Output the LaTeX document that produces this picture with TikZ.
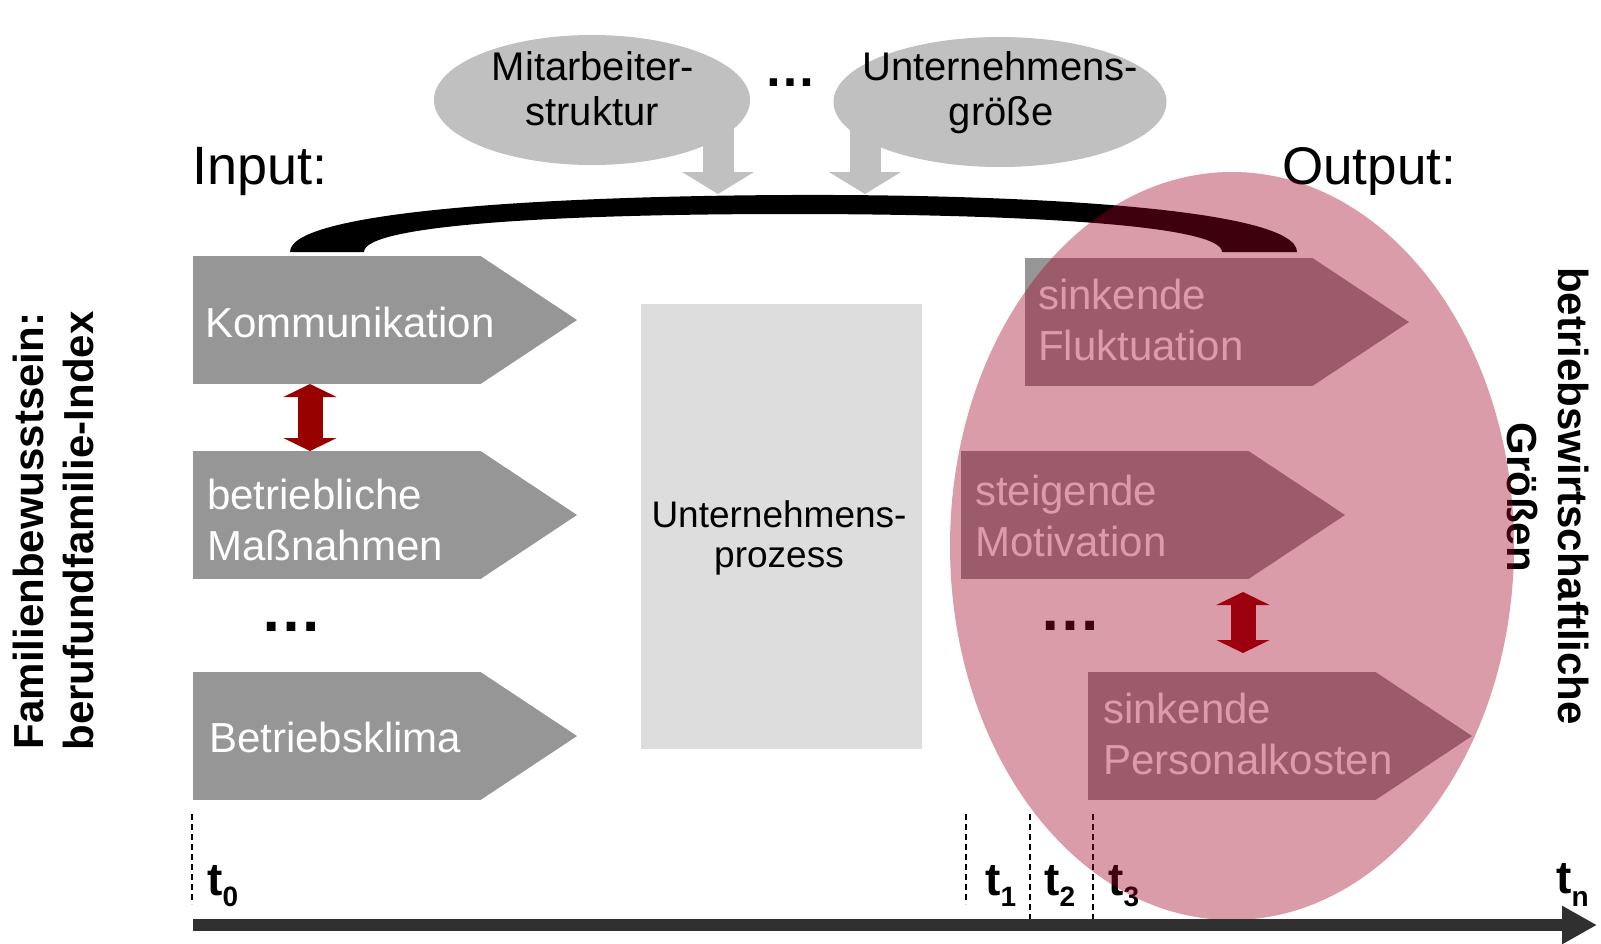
\documentclass[tikz,border=0pt]{standalone}
\usepackage{fontspec}
\setmainfont{Liberation Sans}
\usetikzlibrary{arrows.meta,calc,shapes.geometric}
\definecolor{boxgray}{HTML}{969696}
\definecolor{procgray}{HTML}{DDDDDD}
\definecolor{ellgray}{HTML}{C0C0C0}
\definecolor{arrred}{HTML}{990000}
\definecolor{pinkred}{RGB}{164,0,38}
\definecolor{axisgray}{HTML}{303030}
\newcommand{\fsz}[1]{\fontsize{#1}{#1}\selectfont}
\newcommand{\chevtip}[1]{\fill[boxgray] ($(#1.north east)+(-0.5,0)$) -- ($(#1.east)+(96,0)$) -- ($(#1.south east)+(-0.5,0)$) -- cycle;}
\begin{document}
\begin{tikzpicture}[x=1pt,y=-1pt,
 chev/.style={rectangle, fill=boxgray, minimum width=288pt, minimum height=128pt, inner sep=0pt, outer sep=0pt, anchor=north west},
 boxtxt/.style={anchor=base west, inner sep=0pt, text=white, font=\fsz{42}},
 lbl/.style={anchor=base, inner sep=0pt, font=\fsz{40}},
 topell/.style={ellipse, fill=ellgray, inner sep=0pt, minimum height=130pt},
 dblarr/.style={draw=arrred, line width=25pt, {Triangle[length=13pt,width=53pt]}-{Triangle[length=13pt,width=53pt]}},
 downarr/.style={draw=ellgray, line width=31pt, -{Triangle[length=22pt,width=71pt]}},
 tick/.style={draw=black, line width=1.8pt, dash pattern=on 6pt off 4pt},
 tlbl/.style={anchor=base west, inner sep=0pt, font=\bfseries\fsz{46}},
 side/.style={anchor=base, inner sep=0pt, font=\bfseries\fsz{42}},
 dots/.style={anchor=base west, inner sep=0pt, font=\bfseries\fsz{62}},
 axisarr/.style={draw=axisgray, line width=12pt, -{Triangle[length=35pt,width=36pt]}}
]
\useasboundingbox (0,0) rectangle (1601,943);
\fill[white] (0,0) rectangle (1601,943);

% top ellipses with influence factors
\node[topell, minimum width=316pt] (mit) at (592,100) {};
\node[topell, minimum width=333pt] (ugr) at (1000,102) {};
\node[lbl] (mitA) at (593,80) {Mitarbeiter-};
\node[lbl] (mitB) at (592,125) {struktur};
\node[lbl] (ugrA) at (1000,80) {Unternehmens-};
\node[lbl] (ugrB) at (1001,125) {größe};
\node[dots, font=\bfseries\fsz{52}] (topdots) at (764,86) {…};
\coordinate (d1s) at (718,125);
\coordinate (d1e) at (718,194);
\coordinate (d2s) at (865,125);
\coordinate (d2e) at (865,194);
\draw[downarr] (d1s) -- (d1e);
\draw[downarr] (d2s) -- (d2e);

% black band
\fill[black] (290,252) .. controls (290,210) and (560,196) .. (790,195)
  .. controls (1020,194) and (1297,208) .. (1297,252) -- (1222,252)
  .. controls (1222,224) and (1010,214) .. (790,214)
  .. controls (570,214) and (364,224) .. (364,252) -- cycle;

% headings
\node[anchor=base west, inner sep=0pt, font=\fsz{54}] (inp) at (192,184) {Input:};
\node[anchor=base west, inner sep=0pt, font=\fsz{53}] (outp) at (1282,184) {Output:};

% input boxes
\node[chev] (komm) at (193,256) {}; \chevtip{komm}
\node[chev] (mass) at (193,451) {}; \chevtip{mass}
\node[chev] (klima) at (193,672) {}; \chevtip{klima}
\node[boxtxt] (kommT) at (205,337) {Kommunikation};
\node[boxtxt] (massA) at (207,509) {betriebliche};
\node[boxtxt] (massB) at (207,560) {Maßnahmen};
\node[boxtxt] (klimaT) at (209,752) {Betriebsklima};
\coordinate (ra1) at ($(komm.south west)+(117,0)$);
\coordinate (ra2) at ($(mass.north west)+(117,0)$);
\draw[dblarr] (ra1) -- (ra2);
\node[dots] (ldots) at (260,631) {…};

% process box
\node[rectangle, fill=procgray, minimum width=281pt, minimum height=445pt, inner sep=0pt, anchor=north west] (proc) at (641,304) {};
\node[lbl, font=\fsz{37}] (procA) at (779,527) {Unternehmens-};
\node[lbl, font=\fsz{37}] (procB) at (779,567) {prozess};

% output boxes
\node[chev] (flu) at (1025,258) {}; \chevtip{flu}
\node[chev] (mot) at (961,451) {}; \chevtip{mot}
\node[chev] (pers) at (1088,672) {}; \chevtip{pers}
\node[boxtxt] (fluA) at (1038,309) {sinkende};
\node[boxtxt] (fluB) at (1038,360) {Fluktuation};
\node[boxtxt] (motA) at (975,505) {steigende};
\node[boxtxt] (motB) at (975,556) {Motivation};
\node[boxtxt] (persA) at (1103,723) {sinkende};
\node[boxtxt] (persB) at (1103,774) {Personalkosten};
\coordinate (rb1) at (1243,592);
\coordinate (rb2) at (1243,653);
\draw[dblarr] (rb1) -- (rb2);
\node[dots] (rdots) at (1039,630) {…};

% side labels
\node[side, rotate=90] (famA) at (43,531) {Familienbewusstsein:};
\node[side, rotate=90] (famB) at (93,531) {berufundfamilie-Index};
\node[side, rotate=-90] (bwA) at (1558,496) {betriebswirtschaftliche};
\node[side, rotate=-90] (bwB) at (1507,497) {Größen};

% time ticks
\coordinate (k0a) at (192,814); \coordinate (k0b) at (192,904);
\coordinate (k1a) at (966,814); \coordinate (k1b) at (966,904);
\coordinate (k2a) at (1030,814); \coordinate (k2b) at (1030,919);
\coordinate (k3a) at (1093,814); \coordinate (k3b) at (1093,919);
\draw[tick] (k0a) -- (k0b);
\draw[tick] (k1a) -- (k1b);
\draw[tick] (k2a) -- (k2b);
\draw[tick] (k3a) -- (k3b);
\node[tlbl] (t0) at (207,895) {t\raisebox{-11pt}{\fsz{28}0}};
\node[tlbl] (t1) at (985,895) {t\raisebox{-11pt}{\fsz{28}1}};
\node[tlbl] (t2) at (1044,895) {t\raisebox{-11pt}{\fsz{28}2}};
\node[tlbl] (t3) at (1108,895) {t\raisebox{-11pt}{\fsz{28}3}};
\node[tlbl] (tn) at (1556,893) {t\raisebox{-13pt}{\fsz{28}n}};

% output ellipse overlay
\fill[pinkred, opacity=0.39] (1232,546) ellipse [x radius=282pt, y radius=374pt];

% time axis
\coordinate (ax0) at (193,925);
\coordinate (ax1) at (1597,925);
\draw[axisarr] (ax0) -- (ax1);
\end{tikzpicture}
\end{document}
